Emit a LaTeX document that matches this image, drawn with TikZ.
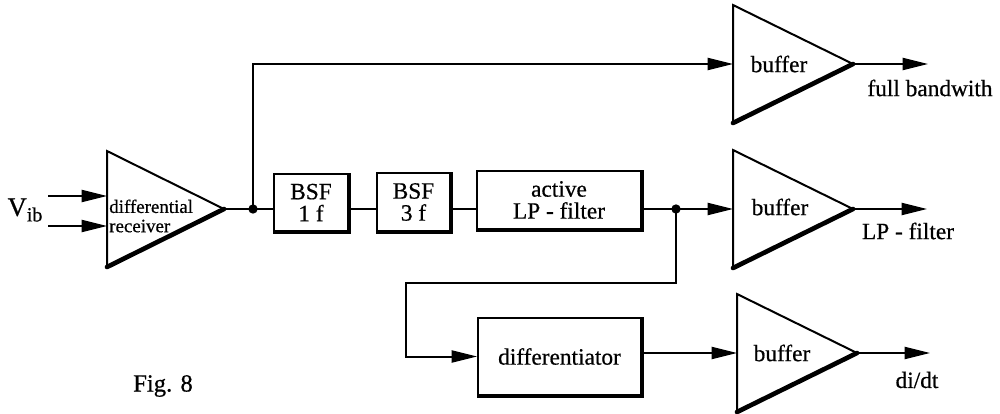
\documentclass[tikz,border=0pt]{standalone}
\usepackage{fontspec}
\setmainfont[FakeBold=0.6]{Liberation Serif}
\usetikzlibrary{arrows.meta}
\begin{document}
\begin{tikzpicture}[x=0.75pt,y=-0.75pt,
  wire/.style={line width=1.5pt},
  arr/.style={wire,-{Triangle[length=19pt,width=9pt]}},
  tri/.style={line width=1.5pt, line join=miter},
  heavy/.style={line width=3.5pt, line cap=round},
  lbl/.style={font=\fontsize{17.5}{16.5}\selectfont, inner sep=0pt, align=center},
  blk/.style={draw, line width=1.5pt, lbl, inner sep=0pt},
  dot/.style={circle, fill, inner sep=0pt, minimum size=7pt}]
\useasboundingbox (0,0) rectangle (1000,414);

% differential receiver
\draw[tri] (107,151) -- (224,209) -- (107,267) -- cycle;
\draw[heavy] (224,209) -- (107,267);
\coordinate (rin1) at (107,196);
\coordinate (rin2) at (107,226);
\coordinate (rout) at (224,209);
\coordinate (s1) at (48,196);
\coordinate (s2) at (48,226);
\node[anchor=west, align=left, inner sep=0pt, font=\fontsize{14.2}{14.5}\selectfont] (rx) at (109,216) {differential\\receiver};
\node[inner sep=0pt] (vib) at (25,210) {\fontsize{20}{20}\selectfont V\raisebox{-0.45ex}{\fontsize{15}{15}\selectfont ib}};

% buffers
\draw[tri] (733,5) -- (853,64) -- (733,123) -- cycle;
\draw[heavy] (853,64) -- (733,123);
\coordinate (b1in) at (733,64);
\coordinate (b1out) at (853,64);
\node[lbl] (b1t) at (779,64) {buffer};

\draw[tri] (733,150) -- (853,209) -- (733,268) -- cycle;
\draw[heavy] (853,209) -- (733,268);
\coordinate (b2in) at (733,209);
\coordinate (b2out) at (853,209);
\node[lbl] (b2t) at (780,207) {buffer};

\draw[tri] (737,294) -- (857,353) -- (737,412) -- cycle;
\draw[heavy] (857,353) -- (737,412);
\coordinate (b3in) at (737,353);
\coordinate (b3out) at (857,353);
\node[lbl] (b3t) at (782,353) {buffer};

% blocks
\node[blk, minimum width=55.5pt, minimum height=42.75pt] (bsf1) at (311,202.5) {BSF\\1 f};
\node[blk, minimum width=54.75pt, minimum height=43.5pt] (bsf3) at (413.5,202) {BSF\\3 f};
\node[blk, minimum width=123pt, minimum height=43.5pt] (lp) at (559,200) {active\\LP - filter};
\node[blk, minimum width=122.25pt, minimum height=57.75pt] (diff) at (559.5,356.5) {differentiator};
\foreach \n in {bsf1,bsf3,lp,diff}
  \draw[line width=3pt] (\n.north east) -- (\n.south east) -- (\n.south west);

% connectors
\coordinate (j1) at (253,209);
\coordinate (j2) at (676,209);
\coordinate (k) at (406,283);
\draw[arr] (s1) -- (rin1);
\draw[arr] (s2) -- (rin2);
\draw[wire] (rout) -- (j1) -- (j1 -| bsf1.west);
\draw[arr] (j1) |- (b1in);
\draw[wire] (bsf1.east |- j1) -- (bsf3.west |- j1);
\draw[wire] (bsf3.east |- j1) -- (lp.west |- j1);
\draw[wire] (lp.east |- j1) -- (j2);
\draw[arr] (j2) -- (b2in);
\draw[arr] (j2) |- (k) |- (diff.west);
\draw[arr] (diff.east |- b3in) -- (b3in);
\node[dot] (d1) at (j1) {};
\node[dot] (d2) at (j2) {};

% outputs
\coordinate (o1) at (928,64);
\coordinate (o2) at (927,209);
\coordinate (o3) at (930,353);
\draw[arr] (b1out) -- (o1);
\draw[arr] (b2out) -- (o2);
\draw[arr] (b3out) -- (o3);
\node[lbl] (l1) at (930,88) {full bandwith};
\node[lbl] (l2) at (908,231) {LP - filter};
\node[lbl] (l3) at (917,380) {di/dt};

\node[inner sep=0pt, font=\fontsize{18.5}{18}\selectfont] (fig) at (163,386) {Fig. 8};
\end{tikzpicture}
\end{document}
